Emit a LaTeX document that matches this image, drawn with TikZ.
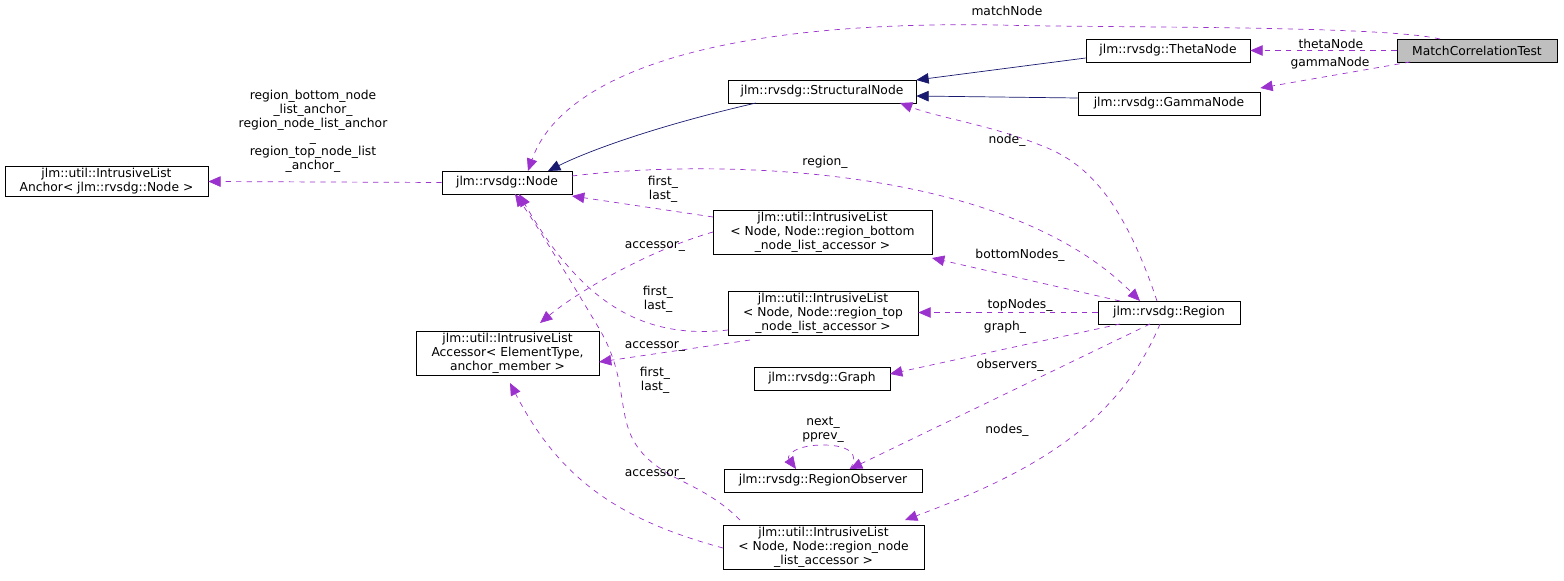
\documentclass[tikz,border=0pt]{standalone}
\usepackage{fontspec}
\setmainfont{DejaVu Sans}
\usetikzlibrary{arrows.meta}
\begin{document}
\begin{tikzpicture}[x=0.02cm,y=-0.02cm,
 box/.style={draw,inner sep=1pt,align=center,font=\fontsize{7}{8}\selectfont,minimum height=23*0.02cm},
 inh/.style={draw={rgb,255:red,25;green,25;blue,112},-{Triangle[open,length=7pt,width=6pt,fill={rgb,255:red,25;green,25;blue,112}]}},
 use/.style={draw={rgb,255:red,155;green,50;blue,205},dashed,-{Triangle[length=7pt,width=6pt]}},
 lab/.style={font=\fontsize{7}{8}\selectfont,align=center,inner sep=0pt}]
\useasboundingbox (0,0) rectangle (1564,581);
\node[box,fill={rgb,255:red,191;green,191;blue,191},minimum width=160*0.02cm] (mct) at (1477,50.5) {MatchCorrelationTest};
\node[box,minimum width=164*0.02cm] (theta) at (1168,50.5) {jlm::rvsdg::ThetaNode};
\node[box,minimum width=182*0.02cm] (gamma) at (1169,103.5) {jlm::rvsdg::GammaNode};
\node[box,minimum width=188*0.02cm] (struct) at (822,91.5) {jlm::rvsdg::StructuralNode};
\node[box,minimum width=130*0.02cm] (node) at (507,182.5) {jlm::rvsdg::Node};
\node[box,minimum width=203*0.02cm] (anchor) at (106.5,181.5) {jlm::util::IntrusiveList\\Anchor< jlm::rvsdg::Node >};
\node[box,minimum width=219*0.02cm] (blist) at (822.5,232) {jlm::util::IntrusiveList\\< Node, Node::region\_bottom\\\_node\_list\_accessor >};
\node[box,minimum width=190*0.02cm] (tlist) at (823,313.5) {jlm::util::IntrusiveList\\< Node, Node::region\_top\\\_node\_list\_accessor >};
\node[box,minimum width=183*0.02cm] (acc) at (507.5,353) {jlm::util::IntrusiveList\\Accessor< ElementType,\\anchor\_member >};
\node[box,minimum width=142*0.02cm] (region) at (1169,312.5) {jlm::rvsdg::Region};
\node[box,minimum width=136*0.02cm] (graph) at (822,378.5) {jlm::rvsdg::Graph};
\node[box,minimum width=198*0.02cm] (obs) at (823,480.5) {jlm::rvsdg::RegionObserver};
\node[box,minimum width=201*0.02cm] (nlist) at (823.5,547.5) {jlm::util::IntrusiveList\\< Node, Node::region\_node\\\_list\_accessor >};
% inheritance
\draw[inh] (theta.west|-0,58) -- (struct.east|-0,80);
\draw[inh] (gamma.west|-0,98) -- (struct.east|-0,96);
\draw[inh] (756,103) .. controls (660,125) and (590,150) .. (548,171);
% usage
\draw[use] (mct.west) -- node[lab,above=1pt,pos=0.45]{thetaNode} (theta.east);
\draw[use] (1410,62) -- (gamma.east|-0,88);
\node[lab] at (1330,63) {gammaNode};
\draw[use] (1440,39) .. controls (1380,25) and (1100,28) .. (1000,25) .. controls (700,20) and (560,80) .. (528,171);
\node[lab] at (1007,11) {matchNode};
\draw[use] (node.west) -- (anchor.east);
\node[lab] at (313,131) {region\_bottom\_node\\\_list\_anchor\_\\region\_node\_list\_anchor\\\_\\region\_top\_node\_list\\\_anchor\_};
\draw[use] (1157,301) .. controls (1120,190) and (1080,160) .. (1040,145) .. controls (990,125) and (940,118) .. (900,103);
\node[lab] at (1007,140) {node\_};
\draw[use] (572,176) .. controls (700,160) and (1000,160) .. (1140,301);
\node[lab] at (825,162) {region\_};
\draw[use] (713,217) -- (572,196);
\node[lab] at (663,189) {first\_\\last\_};
\draw[use] (713,232) .. controls (650,250) and (580,290) .. (540,323);
\node[lab] at (655,247) {accessor\_};
\draw[use] (1120,301) -- (932,258);
\node[lab] at (1020,255) {bottomNodes\_};
\draw[use] (728,330) .. controls (640,340) and (580,300) .. (519,194);
\node[lab] at (658,299) {first\_\\last\_};
\draw[use] (750,340) -- (599,362);
\node[lab] at (655,347) {accessor\_};
\draw[use] (region.west) -- (tlist.east|-region.west);
\node[lab] at (1020,305) {topNodes\_};
\draw[use] (1120,324) -- (890,374);
\node[lab] at (1005,327) {graph\_};
\draw[use] (1150,324) -- (850,469);
\node[lab] at (1010,365) {observers\_};
\draw[use] (850,469) .. controls (860,455) and (850,445) .. (823,445) .. controls (796,445) and (786,455) .. (796,469);
\node[lab] at (823,430) {next\_\\pprev\_};
\draw[use] (1160,324) .. controls (1120,420) and (1040,470) .. (905,520);
\node[lab] at (1007,430) {nodes\_};
\draw[use] (740,520) .. controls (720,500) and (700,490) .. (680,480) .. controls (600,440) and (640,400) .. (600,330) .. controls (570,280) and (540,230) .. (515,194);
\node[lab] at (655,380) {first\_\\last\_};
\draw[use] (723,548) .. controls (620,520) and (560,480) .. (510,383);
\node[lab] at (655,474) {accessor\_};
\end{tikzpicture}
\end{document}
